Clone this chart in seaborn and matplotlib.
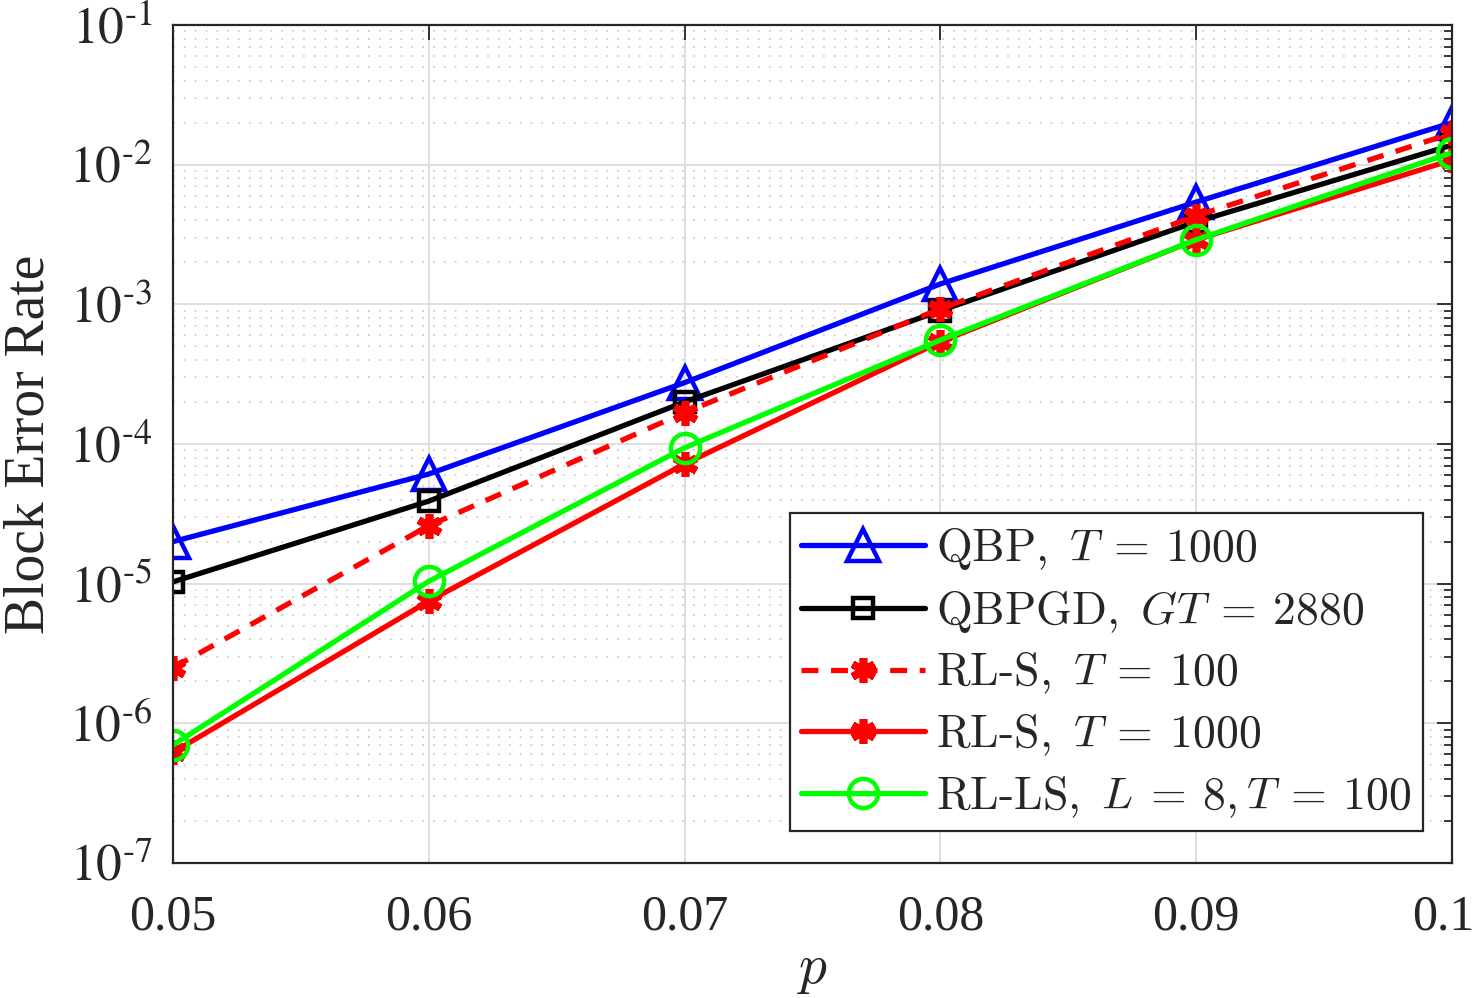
import seaborn as sns
import matplotlib.pyplot as plt
import matplotlib.transforms as mtransforms
import numpy as np
from matplotlib.font_manager import FontProperties
from matplotlib.ticker import LogLocator, NullFormatter

# Data
p = [0.05, 0.06, 0.07, 0.08, 0.09, 0.10]
qbp = [2.0e-5, 6.1e-5, 2.75e-4, 1.4e-3, 5.4e-3, 2.0e-2]
qbpgd = [1.03e-5, 3.9e-5, 2.0e-4, 9.0e-4, 3.9e-3, 1.38e-2]
rls_100 = [2.5e-6, 2.6e-5, 1.68e-4, 9.3e-4, 4.3e-3, 1.68e-2]
rls_1000 = [6.2e-7, 7.5e-6, 7.2e-5, 5.4e-4, 2.9e-3, 1.08e-2]
rlls = [7.0e-7, 1.04e-5, 9.4e-5, 5.55e-4, 2.9e-3, 1.22e-2]

labels = [r"$\mathrm{QBP},\ T \:=\: 1000$",
          r"$\mathrm{QBPGD},\ GT \:=\: 2880$",
          r"$\mathrm{RL\text{-}S},\ T \:=\: 100$",
          r"$\mathrm{RL\text{-}S},\ T \:=\: 1000$",
          r"$\mathrm{RL\text{-}LS},\ L \:=\: 8, T \:=\: 100$"]
yticks = [1e-7, 1e-6, 1e-5, 1e-4, 1e-3, 1e-2, 1e-1]
ytick_labels = [r"$10^{\text{-}7}$", r"$10^{\text{-}6}$", r"$10^{\text{-}5}$",
                r"$10^{\text{-}4}$", r"$10^{\text{-}3}$", r"$10^{\text{-}2}$",
                r"$10^{\text{-}1}$"]
xticks = [0.05, 0.06, 0.07, 0.08, 0.09, 0.1]
xtick_labels = ["0.05", "0.06", "0.07", "0.08", "0.09", "0.1"]

sns.set_style("white")
plt.rcParams['font.family'] = ['Liberation Serif', 'DejaVu Serif']
plt.rcParams['mathtext.fontset'] = 'stix'

fig = plt.figure(figsize=(14.77, 9.98), dpi=100)
ax = fig.add_axes([173 / 1477, 1 - 863 / 998, (1452 - 173) / 1477, (863 - 25) / 998])

lw = 3.8
mew = 3.2
sns.lineplot(x=p, y=qbp, ax=ax, color='#0000ff', lw=lw, marker='^', ms=23,
             mfc='none', mec='#0000ff', mew=mew, label=labels[0])
sns.lineplot(x=p, y=qbpgd, ax=ax, color='black', lw=lw, marker='s', ms=15,
             mfc='none', mec='black', mew=mew, label=labels[1])
sns.lineplot(x=p, y=rls_100, ax=ax, color='#ff0000', lw=lw, ls=(0, (3.2, 2.4)),
             marker=(6, 2, 0), ms=18, mec='#ff0000', mew=5.5, label=labels[2])
sns.lineplot(x=p, y=rls_1000, ax=ax, color='#ff0000', lw=lw,
             marker=(6, 2, 0), ms=18, mec='#ff0000', mew=5.5, label=labels[3])
sns.lineplot(x=p, y=rlls, ax=ax, color='#00ff00', lw=lw, marker='o', ms=21,
             mfc='none', mec='#00ff00', mew=mew, label=labels[4])

ax.set_yscale('log')
ax.set_xlim(0.05, 0.1)
ax.set_ylim(1e-7, 1e-1)
ax.set_xticks(xticks)
ax.set_xticklabels(xtick_labels, fontsize=36)
ax.set_yticks(yticks)
ax.set_yticklabels(ytick_labels, fontsize=37)
ax.yaxis.set_minor_locator(LogLocator(base=10, subs=np.arange(2, 10)))
ax.yaxis.set_minor_formatter(NullFormatter())

ax.grid(True, which='major', color='#dcdcdc', lw=1.3)
ax.grid(True, which='minor', axis='y', color='#cfcfcf', lw=1.3, ls=(0, (1, 5)))
ax.set_axisbelow(True)

ax.tick_params(which='both', direction='in', top=True, right=True,
               width=1.3, color='#262626')
ax.tick_params(axis='x', pad=22)
ax.tick_params(axis='y', pad=15)
ax.tick_params(which='major', length=11)
ax.tick_params(which='minor', length=6)
for s in ax.spines.values():
    s.set_linewidth(1.6)
    s.set_color('#262626')

# last x label sits at the figure edge, nudge it in a little
last = ax.get_xticklabels()[-1]
last.set_transform(last.get_transform() + mtransforms.ScaledTranslation(-9 / 100, 0, fig.dpi_scale_trans))

ax.set_ylabel("Block Error Rate", fontsize=40, color='#262626')
ax.yaxis.set_label_coords(-0.092, 0.5)
ax.set_xlabel("$p$", fontsize=40, math_fontfamily='cm', labelpad=3)

leg = ax.legend(loc='lower right', bbox_to_anchor=(0.9775, 0.038),
                prop=FontProperties(family='Liberation Serif', size=33, math_fontfamily='cm'),
                handlelength=2.7, handletextpad=0.25, borderpad=0.25,
                borderaxespad=0, labelspacing=0.35, fancybox=False, framealpha=1)
leg.get_frame().set_edgecolor('#262626')
leg.get_frame().set_linewidth(1.6)

fig.savefig("out.png", dpi=100)
